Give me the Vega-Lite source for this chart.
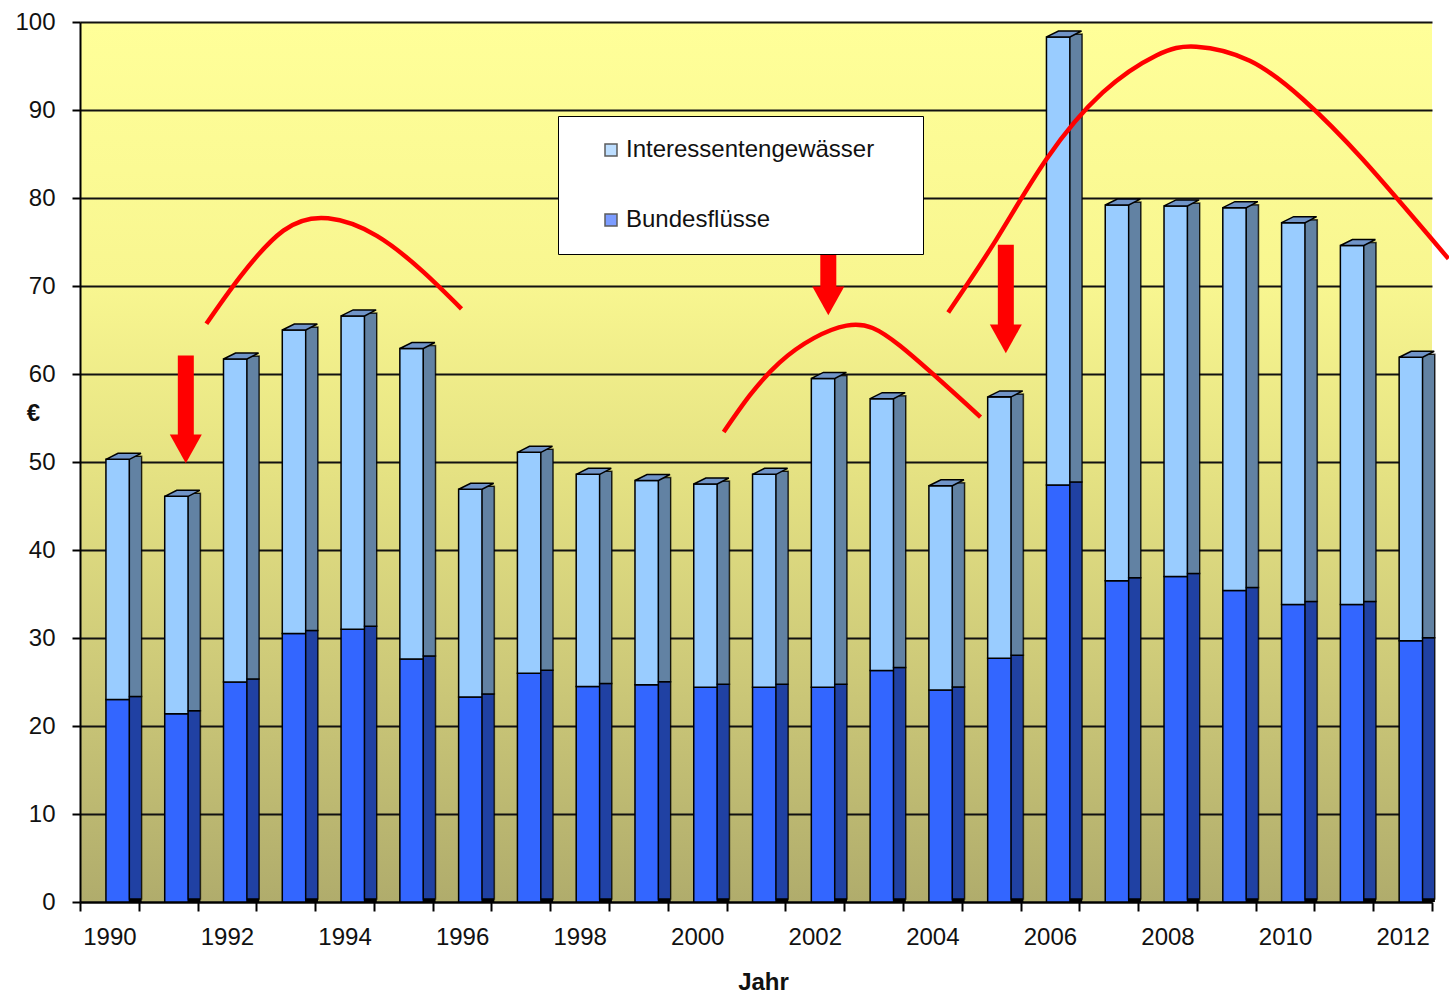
{
  "$schema": "https://vega.github.io/schema/vega-lite/v6.json",
  "width": 1352,
  "height": 880,
  "autosize": {"type": "none"},
  "padding": {"left": 80, "top": 22, "right": 17, "bottom": 91},
  "background": "white",
  "config": {
    "font": "Liberation Sans",
    "view": {
      "stroke": null,
      "fill": {
        "gradient": "linear", "x1": 0, "y1": 0, "x2": 0, "y2": 1,
        "stops": [
          {"offset": 0, "color": "#FFFF99"},
          {"offset": 0.3, "color": "#F8F690"},
          {"offset": 0.5, "color": "#E6E383"},
          {"offset": 0.75, "color": "#CCC878"},
          {"offset": 1, "color": "#B0AC6C"}
        ]
      }
    }
  },
  "datasets": {
    "werte": [
      {"Jahr": "1990", "Gewässer": "Bundesflüsse", "Wert": 23.0}, {"Jahr": "1990", "Gewässer": "Interessentengewässer", "Wert": 27.3},
      {"Jahr": "1991", "Gewässer": "Bundesflüsse", "Wert": 21.4}, {"Jahr": "1991", "Gewässer": "Interessentengewässer", "Wert": 24.7},
      {"Jahr": "1992", "Gewässer": "Bundesflüsse", "Wert": 25.0}, {"Jahr": "1992", "Gewässer": "Interessentengewässer", "Wert": 36.7},
      {"Jahr": "1993", "Gewässer": "Bundesflüsse", "Wert": 30.5}, {"Jahr": "1993", "Gewässer": "Interessentengewässer", "Wert": 34.5},
      {"Jahr": "1994", "Gewässer": "Bundesflüsse", "Wert": 31.0}, {"Jahr": "1994", "Gewässer": "Interessentengewässer", "Wert": 35.6},
      {"Jahr": "1995", "Gewässer": "Bundesflüsse", "Wert": 27.6}, {"Jahr": "1995", "Gewässer": "Interessentengewässer", "Wert": 35.3},
      {"Jahr": "1996", "Gewässer": "Bundesflüsse", "Wert": 23.3}, {"Jahr": "1996", "Gewässer": "Interessentengewässer", "Wert": 23.6},
      {"Jahr": "1997", "Gewässer": "Bundesflüsse", "Wert": 26.0}, {"Jahr": "1997", "Gewässer": "Interessentengewässer", "Wert": 25.1},
      {"Jahr": "1998", "Gewässer": "Bundesflüsse", "Wert": 24.5}, {"Jahr": "1998", "Gewässer": "Interessentengewässer", "Wert": 24.1},
      {"Jahr": "1999", "Gewässer": "Bundesflüsse", "Wert": 24.7}, {"Jahr": "1999", "Gewässer": "Interessentengewässer", "Wert": 23.2},
      {"Jahr": "2000", "Gewässer": "Bundesflüsse", "Wert": 24.4}, {"Jahr": "2000", "Gewässer": "Interessentengewässer", "Wert": 23.1},
      {"Jahr": "2001", "Gewässer": "Bundesflüsse", "Wert": 24.4}, {"Jahr": "2001", "Gewässer": "Interessentengewässer", "Wert": 24.2},
      {"Jahr": "2002", "Gewässer": "Bundesflüsse", "Wert": 24.4}, {"Jahr": "2002", "Gewässer": "Interessentengewässer", "Wert": 35.1},
      {"Jahr": "2003", "Gewässer": "Bundesflüsse", "Wert": 26.3}, {"Jahr": "2003", "Gewässer": "Interessentengewässer", "Wert": 30.9},
      {"Jahr": "2004", "Gewässer": "Bundesflüsse", "Wert": 24.1}, {"Jahr": "2004", "Gewässer": "Interessentengewässer", "Wert": 23.2},
      {"Jahr": "2005", "Gewässer": "Bundesflüsse", "Wert": 27.7}, {"Jahr": "2005", "Gewässer": "Interessentengewässer", "Wert": 29.7},
      {"Jahr": "2006", "Gewässer": "Bundesflüsse", "Wert": 47.4}, {"Jahr": "2006", "Gewässer": "Interessentengewässer", "Wert": 50.9},
      {"Jahr": "2007", "Gewässer": "Bundesflüsse", "Wert": 36.5}, {"Jahr": "2007", "Gewässer": "Interessentengewässer", "Wert": 42.7},
      {"Jahr": "2008", "Gewässer": "Bundesflüsse", "Wert": 37.0}, {"Jahr": "2008", "Gewässer": "Interessentengewässer", "Wert": 42.1},
      {"Jahr": "2009", "Gewässer": "Bundesflüsse", "Wert": 35.4}, {"Jahr": "2009", "Gewässer": "Interessentengewässer", "Wert": 43.5},
      {"Jahr": "2010", "Gewässer": "Bundesflüsse", "Wert": 33.8}, {"Jahr": "2010", "Gewässer": "Interessentengewässer", "Wert": 43.4},
      {"Jahr": "2011", "Gewässer": "Bundesflüsse", "Wert": 33.8}, {"Jahr": "2011", "Gewässer": "Interessentengewässer", "Wert": 40.8},
      {"Jahr": "2012", "Gewässer": "Bundesflüsse", "Wert": 29.7}, {"Jahr": "2012", "Gewässer": "Interessentengewässer", "Wert": 32.2}
    ],
    "boegen": [
      {"Bogen": "A", "x": 1991.65, "y": 65.7}, {"Bogen": "A", "x": 1992.22, "y": 71.0}, {"Bogen": "A", "x": 1992.96, "y": 76.3},
      {"Bogen": "A", "x": 1993.72, "y": 77.7}, {"Bogen": "A", "x": 1994.55, "y": 75.7}, {"Bogen": "A", "x": 1995.34, "y": 71.6},
      {"Bogen": "A", "x": 1995.99, "y": 67.4},
      {"Bogen": "B", "x": 2000.45, "y": 53.4}, {"Bogen": "B", "x": 2001.40, "y": 61.3}, {"Bogen": "B", "x": 2002.54, "y": 65.5},
      {"Bogen": "B", "x": 2003.45, "y": 63.2}, {"Bogen": "B", "x": 2004.82, "y": 55.1},
      {"Bogen": "C", "x": 2004.27, "y": 67.0}, {"Bogen": "C", "x": 2005.09, "y": 75.3}, {"Bogen": "C", "x": 2005.94, "y": 84.4},
      {"Bogen": "C", "x": 2006.90, "y": 92.0}, {"Bogen": "C", "x": 2007.81, "y": 96.2}, {"Bogen": "C", "x": 2008.49, "y": 97.2},
      {"Bogen": "C", "x": 2009.40, "y": 95.6}, {"Bogen": "C", "x": 2010.30, "y": 91.25}, {"Bogen": "C", "x": 2011.32, "y": 84.4},
      {"Bogen": "C", "x": 2012.78, "y": 73.1}
    ],
    "pfeile": [
      {"x": 1991.30, "oben": 62.1, "basis": 52.7, "kopf": 51.5},
      {"x": 2002.23, "oben": 79.1, "basis": 69.6, "kopf": 68.3},
      {"x": 2005.25, "oben": 74.7, "basis": 65.3, "kopf": 64.0}
    ]
  },
  "layer": [
    {
      "data": {"name": "werte"},
      "mark": {"type": "bar", "width": {"band": 0.4}, "xOffset": 8.3, "stroke": "black", "strokeWidth": 1.5, "opacity": 1},
      "encoding": {
        "x": {
          "field": "Jahr", "type": "ordinal",
          "scale": {"type": "band", "paddingInner": 0, "paddingOuter": 0},
          "axis": {
            "tickBand": "extent",
            "labelExpr": "toNumber(datum.value) % 2 == 0 ? datum.label : ''",
            "labelAngle": 0, "labelFontSize": 24, "labelColor": "#111", "labelPadding": 14,
            "tickSize": 9, "tickColor": "black", "tickWidth": 2,
            "domainColor": "black", "domainWidth": 2,
            "title": "Jahr", "titleFontSize": 24, "titleFontWeight": "bold", "titleColor": "#111",
            "titleY": 80, "titleX": 683, "titleBaseline": "middle"
          }
        },
        "y": {
          "field": "Wert", "type": "quantitative", "stack": "zero",
          "scale": {"domain": [0, 100], "nice": false},
          "axis": {
            "values": [0, 10, 20, 30, 40, 50, 60, 70, 80, 90, 100],
            "grid": true, "gridColor": "#111", "gridWidth": 2,
            "tickSize": 8, "tickColor": "black", "tickWidth": 2,
            "domainColor": "black", "domainWidth": 2,
            "labelFontSize": 24, "labelColor": "#111", "labelPadding": 17,
            "title": "€", "titleAngle": 0, "titleFontSize": 24, "titleFontWeight": "bold", "titleColor": "#111",
            "titleX": -47, "titleY": 391, "titleAlign": "center", "titleBaseline": "middle"
          }
        },
        "color": {
          "field": "Gewässer", "type": "nominal",
          "scale": {"domain": ["Interessentengewässer", "Bundesflüsse"], "range": ["#99CCFF", "#3366FF"]},
          "legend": {
            "orient": "none", "legendX": 478, "legendY": 94, "title": null, "zindex": 0,
            "fillColor": "white", "strokeColor": "black",
            "padding": 22, "rowPadding": 46,
            "symbolType": "square", "symbolSize": 144, "symbolStrokeColor": "black", "symbolStrokeWidth": 1.5, "symbolOpacity": 1,
            "symbolOffset": 19, "labelOffset": 3, "labelFontSize": 24, "labelColor": "#111", "labelLimit": 600,
            "labelExpr": "datum.label + '\u00a0\u00a0\u00a0\u00a0\u200b'"
          }
        },
        "order": {"field": "Gewässer", "sort": "ascending"}
      }
    },
    {
      "data": {"name": "werte"},
      "mark": {"type": "bar", "width": {"band": 0.21}, "xOffset": 26.1, "yOffset": -3, "color": "black"},
      "encoding": {
        "x": {"field": "Jahr", "type": "ordinal", "scale": {"type": "band", "paddingInner": 0, "paddingOuter": 0}, "axis": null},
        "y": {"aggregate": "sum", "field": "Wert", "type": "quantitative", "scale": {"domain": [0, 100], "nice": false}}
      }
    },
    {
      "data": {"name": "werte"},
      "mark": {"type": "bar", "width": {"band": 0.21}, "xOffset": 26.1, "yOffset": -3, "opacity": 0.64, "stroke": "black", "strokeWidth": 1.5},
      "encoding": {
        "x": {"field": "Jahr", "type": "ordinal", "scale": {"type": "band", "paddingInner": 0, "paddingOuter": 0}, "axis": null},
        "y": {"field": "Wert", "type": "quantitative", "stack": "zero", "scale": {"domain": [0, 100], "nice": false}},
        "color": {"field": "Gewässer", "type": "nominal", "scale": {"domain": ["Interessentengewässer", "Bundesflüsse"], "range": ["#99CCFF", "#3366FF"]}},
        "order": {"field": "Gewässer", "sort": "ascending"}
      }
    },
    {
      "data": {"name": "werte"},
      "mark": {"type": "point", "filled": true, "opacity": 1, "fill": "#7094C8", "stroke": "black", "strokeWidth": 1.5, "size": 1225, "xOffset": 14.1, "yOffset": -3,
               "shape": "M-1,0.171L0.343,0.171L1,-0.171L-0.314,-0.171Z"},
      "encoding": {
        "x": {"field": "Jahr", "type": "ordinal", "scale": {"type": "band", "paddingInner": 0, "paddingOuter": 0}, "axis": null},
        "y": {"aggregate": "sum", "field": "Wert", "type": "quantitative", "scale": {"domain": [0, 100], "nice": false}}
      }
    },
    {
      "data": {"name": "boegen"},
      "mark": {"type": "line", "color": "#FF0000", "strokeWidth": 4.5, "interpolate": "natural"},
      "encoding": {
        "x": {"field": "x", "type": "quantitative", "scale": {"domain": [1989.5, 2012.5], "nice": false, "zero": false}, "axis": null},
        "y": {"field": "y", "type": "quantitative", "scale": {"domain": [0, 100], "nice": false}},
        "detail": {"field": "Bogen"}
      }
    },
    {
      "data": {"name": "pfeile"},
      "mark": {"type": "rule", "color": "#FF0000", "strokeWidth": 16, "strokeCap": "butt", "zindex": 5},
      "encoding": {
        "x": {"field": "x", "type": "quantitative", "scale": {"domain": [1989.5, 2012.5], "nice": false, "zero": false}, "axis": null},
        "y": {"field": "oben", "type": "quantitative", "scale": {"domain": [0, 100], "nice": false}},
        "y2": {"field": "basis"}
      }
    },
    {
      "data": {"name": "pfeile"},
      "mark": {"type": "point", "filled": true, "opacity": 1, "color": "#FF0000", "size": 1024, "shape": "M-1,-0.9L1,-0.9L0,0.9Z", "zindex": 5},
      "encoding": {
        "x": {"field": "x", "type": "quantitative", "scale": {"domain": [1989.5, 2012.5], "nice": false, "zero": false}, "axis": null},
        "y": {"field": "kopf", "type": "quantitative", "scale": {"domain": [0, 100], "nice": false}}
      }
    }
  ],
  "resolve": {"scale": {"x": "independent"}}
}
